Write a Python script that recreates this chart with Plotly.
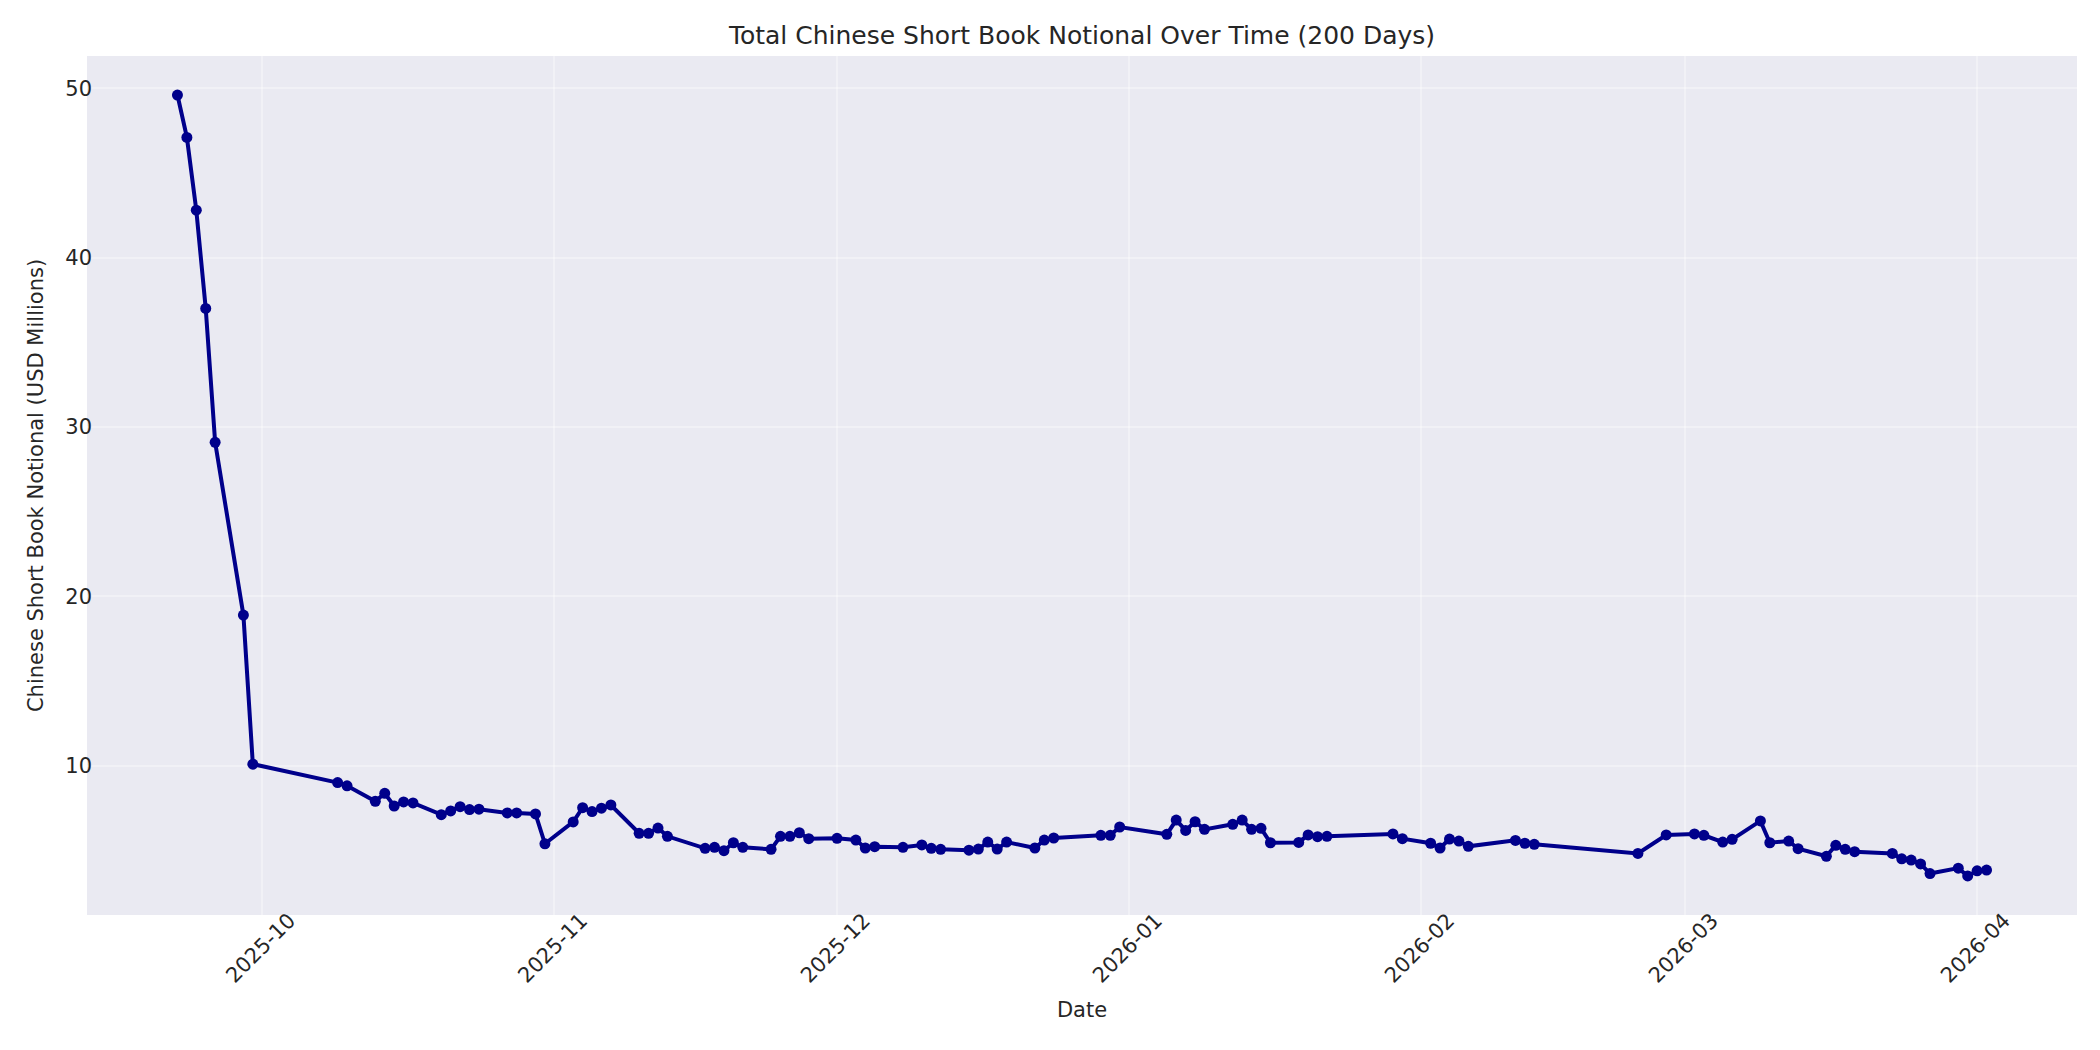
import pandas as pd
import plotly.graph_objects as go

# trading days (chinese calendar, holidays missing)
dates = [
    "2025-09-22", "2025-09-23", "2025-09-24", "2025-09-25", "2025-09-26",
    "2025-09-29", "2025-09-30", "2025-10-09", "2025-10-10", "2025-10-13",
    "2025-10-14", "2025-10-15", "2025-10-16", "2025-10-17", "2025-10-20",
    "2025-10-21", "2025-10-22", "2025-10-23", "2025-10-24", "2025-10-27",
    "2025-10-28", "2025-10-30", "2025-10-31", "2025-11-03", "2025-11-04",
    "2025-11-05", "2025-11-06", "2025-11-07", "2025-11-10", "2025-11-11",
    "2025-11-12", "2025-11-13", "2025-11-17", "2025-11-18", "2025-11-19",
    "2025-11-20", "2025-11-21", "2025-11-24", "2025-11-25", "2025-11-26",
    "2025-11-27", "2025-11-28", "2025-12-01", "2025-12-03", "2025-12-04",
    "2025-12-05", "2025-12-08", "2025-12-10", "2025-12-11", "2025-12-12",
    "2025-12-15", "2025-12-16", "2025-12-17", "2025-12-18", "2025-12-19",
    "2025-12-22", "2025-12-23", "2025-12-24", "2025-12-29", "2025-12-30",
    "2025-12-31", "2026-01-05", "2026-01-06", "2026-01-07", "2026-01-08",
    "2026-01-09", "2026-01-12", "2026-01-13", "2026-01-14", "2026-01-15",
    "2026-01-16", "2026-01-19", "2026-01-20", "2026-01-21", "2026-01-22",
    "2026-01-29", "2026-01-30", "2026-02-02", "2026-02-03", "2026-02-04",
    "2026-02-05", "2026-02-06", "2026-02-11", "2026-02-12", "2026-02-13",
    "2026-02-24", "2026-02-27", "2026-03-02", "2026-03-03", "2026-03-05",
    "2026-03-06", "2026-03-09", "2026-03-10", "2026-03-12", "2026-03-13",
    "2026-03-16", "2026-03-17", "2026-03-18", "2026-03-19", "2026-03-23",
    "2026-03-24", "2026-03-25", "2026-03-26", "2026-03-27", "2026-03-30",
    "2026-03-31", "2026-04-01", "2026-04-02",
]

# notional in USD millions
notional = [
    49.6, 47.1, 42.8, 37.0, 29.1,
    18.9, 10.1, 9.01, 8.82, 7.91,
    8.38, 7.63, 7.87, 7.81, 7.12,
    7.34, 7.59, 7.42, 7.44, 7.22,
    7.22, 7.16, 5.40, 6.69, 7.53,
    7.30, 7.50, 7.69, 6.02, 6.02,
    6.33, 5.84, 5.13, 5.19, 4.99,
    5.46, 5.19, 5.07, 5.84, 5.84,
    6.05, 5.70, 5.72, 5.62, 5.15,
    5.23, 5.19, 5.33, 5.13, 5.07,
    5.02, 5.09, 5.50, 5.09, 5.50,
    5.15, 5.62, 5.74, 5.90, 5.90,
    6.39, 5.96, 6.80, 6.19, 6.70,
    6.25, 6.55, 6.80, 6.25, 6.31,
    5.46, 5.48, 5.92, 5.82, 5.84,
    5.98, 5.70, 5.43, 5.15, 5.68,
    5.56, 5.25, 5.60, 5.43, 5.37,
    4.83, 5.92, 5.98, 5.90, 5.50,
    5.66, 6.75, 5.46, 5.56, 5.11,
    4.66, 5.31, 5.07, 4.93, 4.83,
    4.51, 4.44, 4.21, 3.64, 3.96,
    3.50, 3.80, 3.85,
]

df = pd.DataFrame({"date": pd.to_datetime(dates), "notional": notional})

# matplotlib-like 5% margins
span = df["date"].max() - df["date"].min()
x0 = df["date"].min() - span * 0.05
x1 = df["date"].max() + span * 0.05
ylo, yhi = min(notional), max(notional)
pad = (yhi - ylo) * 0.05

font = "DejaVu Sans"
txt = "#262626"
grid = "rgba(255,255,255,0.35)"

fig = go.Figure()
fig.add_trace(go.Scatter(
    x=df["date"], y=df["notional"], mode="lines+markers",
    line=dict(color="#00008B", width=4),
    marker=dict(color="#00008B", size=11),
    showlegend=False,
))

# page has an 8px body margin, so everything is nudged up/left by 8
fig.update_layout(
    width=2100, height=1050,
    margin=dict(l=79, r=31, t=48, b=143),
    paper_bgcolor="white",
    plot_bgcolor="#EAEAF2",
    font=dict(family=font, size=21, color=txt),
    title=dict(
        text="Total Chinese Short Book Notional Over Time (200 Days)",
        x=0.5, xref="paper", xanchor="center",
        y=1 - 27 / 1050, yref="container", yanchor="middle",
        font=dict(size=25, color=txt),
    ),
)

fig.update_xaxes(
    range=[x0, x1],
    tickformat="%Y-%m", dtick="M1", tick0="2025-10-01",
    tickangle=-45, ticks="",
    ticklabelshift=27, ticklabelstandoff=-12,
    showgrid=True, gridcolor=grid, gridwidth=2,
    zeroline=False, showline=False,
    tickfont=dict(size=21, color=txt),
    title=dict(text="Date", font=dict(size=21, color=txt)),
)
fig.update_yaxes(
    range=[ylo - pad, yhi + pad],
    tickvals=[10, 20, 30, 40, 50], ticks="",
    ticklabelstandoff=-6,
    showgrid=True, gridcolor=grid, gridwidth=2,
    zeroline=False, showline=False,
    tickfont=dict(size=21, color=txt),
    title=dict(text="Chinese Short Book Notional (USD Millions)", font=dict(size=21, color=txt)),
)

fig.write_html("out.html")
